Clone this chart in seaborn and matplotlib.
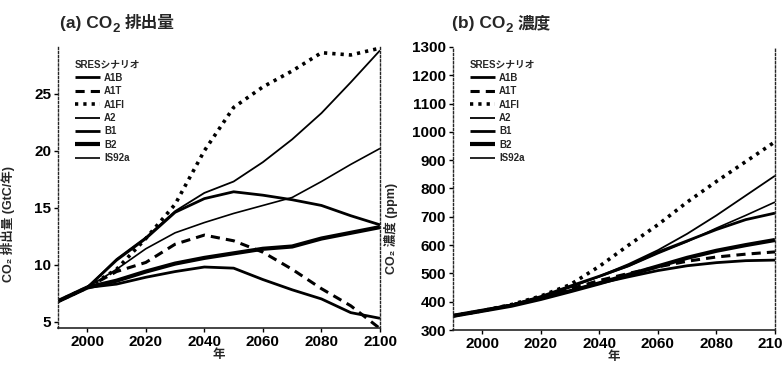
import matplotlib
matplotlib.use("Agg")
import matplotlib.pyplot as plt
import seaborn as sns
import numpy as np
import pandas as pd

years = [1990, 2000, 2010, 2020, 2030, 2040, 2050, 2060, 2070, 2080, 2090, 2100]
scenarios = ["A1B", "A1T", "A1FI", "A2", "B1", "B2", "IS92a"]

# (a) CO2 emissions, GtC/yr
emis_A1B = [6.8, 8.0, 10.4, 12.3, 14.6, 15.8, 16.4, 16.1, 15.7, 15.2, 14.3, 13.5]
emis_A1T = [6.8, 8.0, 9.4, 10.2, 11.8, 12.6, 12.1, 11.1, 9.6, 7.9, 6.4, 4.4]
emis_A1FI = [6.8, 8.0, 9.6, 12.3, 15.3, 20.0, 23.8, 25.6, 27.0, 28.6, 28.4, 29.0]
emis_A2 = [6.8, 8.0, 10.5, 12.4, 14.7, 16.3, 17.3, 19.0, 21.0, 23.3, 26.0, 28.8]
emis_B1 = [6.8, 8.0, 8.3, 8.9, 9.4, 9.8, 9.7, 8.7, 7.8, 7.0, 5.8, 5.3]
emis_B2 = [6.8, 8.0, 8.6, 9.4, 10.1, 10.6, 11.0, 11.4, 11.6, 12.3, 12.8, 13.3]
emis_IS92a = [6.8, 8.0, 9.6, 11.4, 12.8, 13.7, 14.5, 15.2, 15.9, 17.3, 18.8, 20.2]

# (b) CO2 concentration, ppm
conc_A1B = [350, 368, 388, 418, 455, 490, 528, 575, 615, 655, 690, 713]
conc_A1T = [350, 368, 388, 415, 445, 475, 500, 523, 543, 558, 568, 576]
conc_A1FI = [350, 368, 390, 420, 460, 525, 600, 672, 752, 825, 895, 965]
conc_A2 = [350, 368, 388, 415, 450, 490, 533, 582, 640, 705, 775, 845]
conc_B1 = [350, 368, 388, 412, 438, 465, 488, 510, 527, 538, 545, 547]
conc_B2 = [350, 368, 386, 410, 437, 465, 495, 525, 555, 580, 600, 618]
conc_IS92a = [350, 368, 390, 418, 452, 488, 525, 570, 612, 660, 705, 752]

emis_ticks = [5, 10, 15, 20, 25]
conc_ticks = [300, 400, 500, 600, 700, 800, 900, 1000, 1100, 1200, 1300]
year_ticks = [2000, 2020, 2040, 2060, 2080, 2100]

emis = dict(zip(scenarios, [emis_A1B, emis_A1T, emis_A1FI, emis_A2, emis_B1, emis_B2, emis_IS92a]))
conc = dict(zip(scenarios, [conc_A1B, conc_A1T, conc_A1FI, conc_A2, conc_B1, conc_B2, conc_IS92a]))

styles = {
    "A1B": dict(lw=2.0, ls="-"),
    "A1T": dict(lw=2.2, ls=(0, (3.0, 2.0))),
    "A1FI": dict(lw=2.6, ls=(0, (0.9, 1.4))),
    "A2": dict(lw=1.3, ls="-"),
    "B1": dict(lw=2.0, ls="-"),
    "B2": dict(lw=3.0, ls="-"),
    "IS92a": dict(lw=1.2, ls="-"),
}

sns.set_theme(style="ticks")
FAM = ["Liberation Sans", "Noto Sans CJK JP", "DejaVu Sans"]
plt.rcParams["font.family"] = FAM

fig = plt.figure(figsize=(7.83, 3.68), dpi=100)
W, H = 783.0, 368.0
axA = fig.add_axes([58 / W, 1 - 328 / H, 322 / W, 281 / H])
axB = fig.add_axes([453 / W, 1 - 330 / H, 322 / W, 283 / H])

def draw(ax, data):
    for s in scenarios:
        sns.lineplot(x=years, y=data[s], ax=ax, color="black",
                     linewidth=styles[s]["lw"], linestyle=styles[s]["ls"],
                     label=s, solid_capstyle="butt", dash_capstyle="butt")
    ax.set_xlim(1990, 2100)
    ax.set_xticks(year_ticks)
    ax.set_xticklabels([str(t) for t in year_ticks], fontsize=11, fontweight="bold")
    for side in ["left", "right"]:
        ax.spines[side].set_visible(True)
        ax.spines[side].set_linestyle((0, (1.5, 1.5)))
        ax.spines[side].set_linewidth(1.0)
    ax.spines["bottom"].set_linestyle((0, (5, 1)))
    ax.spines["bottom"].set_linewidth(1.2)
    ax.spines["top"].set_visible(False)
    ax.tick_params(axis="both", direction="out", length=3, width=1, colors="black", pad=2)
    ax.set_xlabel("年", fontsize=9, labelpad=0, fontweight="bold")
    leg = ax.legend(loc="upper left", bbox_to_anchor=(0.04, 0.97), frameon=False,
                    title="SRESシナリオ", fontsize=7, title_fontsize=7,
                    handlelength=2.6, handletextpad=0.4, labelspacing=0.35,
                    borderaxespad=0.0)
    leg._legend_box.align = "left"
    for t in leg.get_texts():
        t.set_fontweight("bold")
    leg.get_title().set_fontweight("bold")

draw(axA, emis)
axA.set_ylim(4.45, 29.1)
axA.set_yticks(emis_ticks)
axA.set_yticklabels([str(t) for t in emis_ticks], fontsize=11, fontweight="bold")
axA.set_ylabel("CO₂ 排出量 (GtC/年)", fontsize=9, fontweight="bold")
axA.yaxis.set_label_coords(-0.135, 0.37)

draw(axB, conc)
axB.set_ylim(300, 1300)
axB.set_yticks(conc_ticks)
axB.set_yticklabels([str(t) for t in conc_ticks], fontsize=11, fontweight="bold")
axB.set_ylabel("CO₂ 濃度 (ppm)", fontsize=9, fontweight="bold")
axB.yaxis.set_label_coords(-0.17, 0.36)

# Titles with a proper subscript 2: built from three text pieces
renderer = fig.canvas.get_renderer()

def title(x_px, head, tail):
    y = 1 - 28 / H
    t1 = fig.text(x_px / W, y, head, fontsize=12.5, fontweight="bold", va="baseline", ha="left")
    w1 = t1.get_window_extent(renderer).width
    t2 = fig.text((x_px + w1 + 0.5) / W, y - 4 / H, "2", fontsize=9.5, fontweight="bold",
                  va="baseline", ha="left")
    w2 = t2.get_window_extent(renderer).width
    fig.text((x_px + w1 + w2 + 5) / W, y, tail, fontsize=12, fontweight="bold",
             va="baseline", ha="left")

title(60, "(a) CO", "排出量")
title(452, "(b) CO", "濃度")

fig.savefig("out.png", dpi=100, facecolor="white")
